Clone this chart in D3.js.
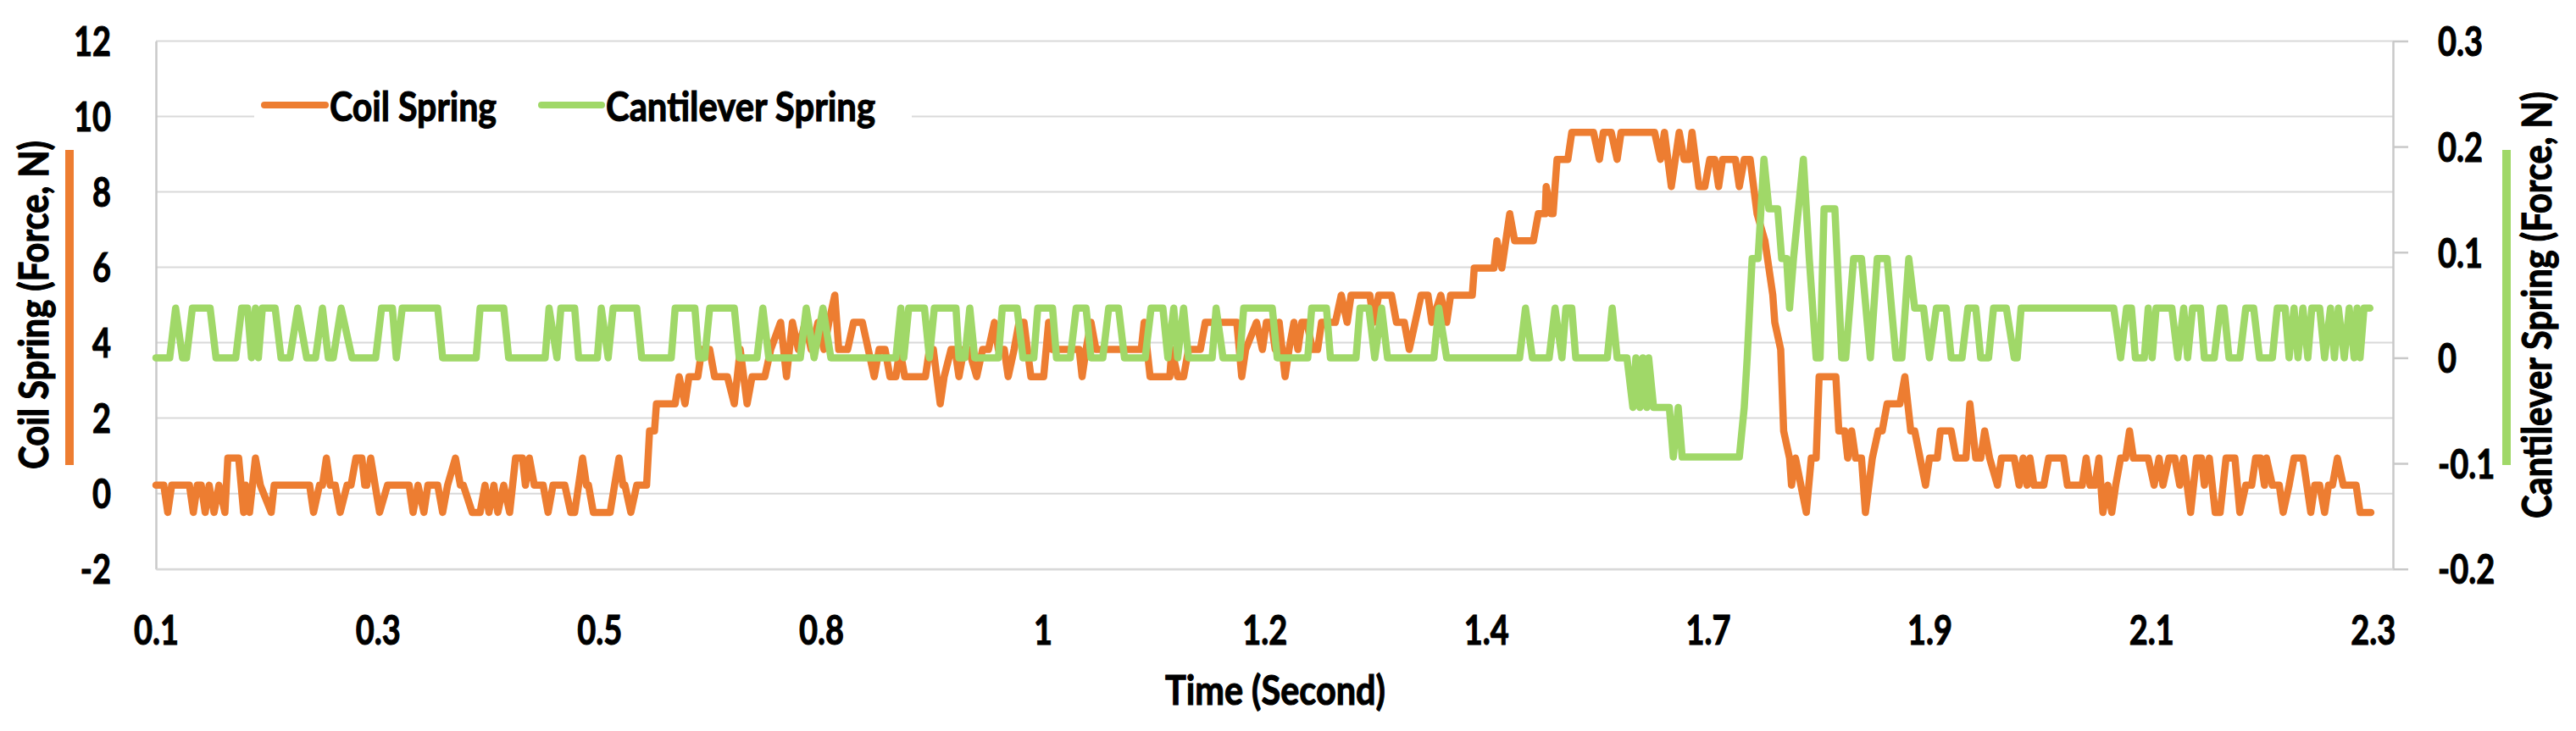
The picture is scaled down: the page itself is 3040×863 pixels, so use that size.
<!DOCTYPE html>
<html><head><meta charset="utf-8">
<script src="https://cdn.jsdelivr.net/npm/d3@7"></script>
<style>
html,body{margin:0;padding:0;background:#fff;}
svg{display:block;}
text{font-family:Lato,"Open Sans","DejaVu Sans",sans-serif;font-weight:700;fill:#000;stroke:#000;stroke-width:1.1px;}
</style>
</head><body>
<svg id="chart" width="3040" height="863"></svg>
<script>
// ---------- data ----------
const seriesNames = ["Coil Spring", "Cantilever Spring"];
const tickTimes  = [0.1, 0.325, 0.55, 0.775, 1.0, 1.225, 1.45, 1.675, 1.9, 2.125, 2.35];
const tickLabels = ["0.1","0.3","0.5","0.8","1","1.2","1.4","1.7","1.9","2.1","2.3"];
const leftTicks  = [-2, 0, 2, 4, 6, 8, 10, 12];
const rightTicks = [-0.2, -0.1, 0, 0.1, 0.2, 0.3];

// [time (s), force (N)] – Coil Spring (left axis)
const coilSpring = [
[0.100,0.22],[0.108,0.22],[0.112,-0.5],[0.116,0.22],[0.134,0.22],[0.138,-0.5],[0.142,0.22],[0.146,0.22],[0.150,-0.5],[0.154,0.22],
[0.159,-0.5],[0.164,0.22],[0.170,-0.5],[0.173,0.94],[0.184,0.94],[0.189,-0.5],[0.191,0.22],[0.195,-0.5],[0.201,0.94],[0.206,0.22],
[0.217,-0.5],[0.220,0.22],[0.256,0.22],[0.260,-0.5],[0.266,0.22],[0.269,0.22],[0.273,0.94],[0.277,0.22],[0.282,0.22],[0.287,-0.5],
[0.294,0.22],[0.298,0.22],[0.303,0.94],[0.309,0.94],[0.312,0.22],[0.314,0.22],[0.318,0.94],[0.327,-0.5],[0.335,0.22],[0.357,0.22],
[0.361,-0.5],[0.366,0.22],[0.372,-0.5],[0.376,0.22],[0.386,0.22],[0.391,-0.5],[0.396,0.22],[0.404,0.94],[0.409,0.22],[0.412,0.22],
[0.421,-0.5],[0.429,-0.5],[0.434,0.22],[0.438,-0.5],[0.443,0.22],[0.447,-0.5],[0.453,0.22],[0.459,-0.5],[0.465,0.94],[0.472,0.94],
[0.475,0.22],[0.479,0.94],[0.484,0.22],[0.493,0.22],[0.498,-0.5],[0.503,0.22],[0.515,0.22],[0.521,-0.5],[0.525,-0.5],[0.533,0.94],
[0.537,0.22],[0.539,0.22],[0.544,-0.5],[0.561,-0.5],[0.570,0.94],[0.574,0.22],[0.576,0.22],[0.582,-0.5],[0.588,0.22],[0.598,0.22],
[0.601,1.66],[0.606,1.66],[0.608,2.38],[0.627,2.38],[0.631,3.10],[0.637,2.38],[0.641,3.10],[0.650,3.10],[0.654,3.82],[0.662,3.82],
[0.667,3.10],[0.680,3.10],[0.687,2.38],[0.693,3.82],[0.700,2.38],[0.705,3.10],[0.718,3.10],[0.724,3.82],[0.734,4.54],[0.740,3.10],
[0.746,4.54],[0.752,3.82],[0.759,4.54],[0.765,3.82],[0.772,4.54],[0.778,3.82],[0.783,4.54],[0.789,5.26],[0.793,3.82],[0.802,3.82],
[0.808,4.54],[0.817,4.54],[0.823,3.82],[0.829,3.10],[0.834,3.82],[0.840,3.82],[0.845,3.10],[0.851,3.10],[0.855,3.82],[0.860,3.10],
[0.881,3.10],[0.885,3.82],[0.889,3.82],[0.896,2.38],[0.900,3.10],[0.907,3.82],[0.911,3.82],[0.915,3.10],[0.920,3.82],[0.925,3.82],
[0.933,3.10],[0.939,3.82],[0.945,3.82],[0.951,4.54],[0.955,3.82],[0.961,3.82],[0.965,3.10],[0.971,3.82],[0.976,4.54],[0.981,4.54],
[0.988,3.10],[1.001,3.10],[1.006,4.54],[1.010,3.82],[1.037,3.82],[1.040,3.10],[1.044,3.82],[1.049,4.54],[1.054,3.82],[1.100,3.82],
[1.103,4.54],[1.109,3.10],[1.129,3.10],[1.131,3.82],[1.137,3.10],[1.143,3.10],[1.148,3.82],[1.160,3.82],[1.165,4.54],[1.197,4.54],
[1.202,3.10],[1.206,3.82],[1.217,4.54],[1.223,3.82],[1.227,4.54],[1.232,4.54],[1.236,3.82],[1.240,4.54],[1.246,3.10],[1.250,3.82],
[1.255,4.54],[1.259,3.82],[1.263,4.54],[1.268,4.54],[1.274,3.82],[1.279,3.82],[1.283,4.54],[1.297,4.54],[1.303,5.26],[1.309,4.54],
[1.313,5.26],[1.332,5.26],[1.336,4.54],[1.341,5.26],[1.354,5.26],[1.359,4.54],[1.367,4.54],[1.372,3.82],[1.378,4.54],[1.384,5.26],
[1.391,5.26],[1.395,4.54],[1.404,5.26],[1.410,4.54],[1.414,5.26],[1.436,5.26],[1.438,5.98],[1.458,5.98],[1.461,6.70],[1.466,5.98],
[1.474,7.42],[1.479,6.70],[1.498,6.70],[1.503,7.42],[1.510,7.42],[1.511,8.14],[1.516,7.42],[1.518,7.42],[1.522,8.86],[1.533,8.86],
[1.537,9.58],[1.559,9.58],[1.565,8.86],[1.569,9.58],[1.577,9.58],[1.583,8.86],[1.587,9.58],[1.621,9.58],[1.627,8.86],[1.631,9.58],
[1.638,8.14],[1.646,9.58],[1.651,8.86],[1.656,8.86],[1.659,9.58],[1.666,8.14],[1.672,8.14],[1.677,8.86],[1.682,8.86],[1.686,8.14],
[1.690,8.86],[1.703,8.86],[1.707,8.14],[1.712,8.86],[1.718,8.86],[1.725,7.42],[1.733,6.70],[1.737,5.98],[1.741,5.26],[1.743,4.54],
[1.749,3.82],[1.752,1.66],[1.758,0.94],[1.760,0.22],[1.764,0.94],[1.775,-0.5],[1.780,0.94],[1.785,0.94],[1.788,3.10],[1.805,3.10],
[1.808,1.66],[1.814,1.66],[1.817,0.94],[1.821,1.66],[1.825,0.94],[1.831,0.94],[1.835,-0.5],[1.842,0.94],[1.848,1.66],[1.852,1.66],
[1.857,2.38],[1.870,2.38],[1.875,3.10],[1.881,1.66],[1.885,1.66],[1.896,0.22],[1.900,0.94],[1.908,0.94],[1.911,1.66],[1.922,1.66],
[1.927,0.94],[1.937,0.94],[1.941,2.38],[1.947,0.94],[1.952,0.94],[1.956,1.66],[1.961,0.94],[1.969,0.22],[1.973,0.94],[1.986,0.94],
[1.991,0.22],[1.995,0.94],[1.999,0.22],[2.002,0.94],[2.006,0.22],[2.016,0.22],[2.021,0.94],[2.036,0.94],[2.040,0.22],[2.055,0.22],
[2.059,0.94],[2.063,0.22],[2.068,0.22],[2.072,0.94],[2.076,-0.5],[2.081,0.22],[2.085,-0.5],[2.089,0.22],[2.094,0.94],[2.099,0.94],
[2.103,1.66],[2.107,0.94],[2.122,0.94],[2.128,0.22],[2.133,0.94],[2.137,0.22],[2.143,0.94],[2.149,0.94],[2.154,0.22],[2.158,0.94],
[2.165,-0.5],[2.171,0.94],[2.176,0.94],[2.179,0.22],[2.184,0.94],[2.190,-0.5],[2.195,-0.5],[2.201,0.94],[2.210,0.94],[2.215,-0.5],
[2.221,0.22],[2.227,0.22],[2.231,0.94],[2.236,0.94],[2.240,0.22],[2.242,0.94],[2.248,0.22],[2.255,0.22],[2.259,-0.5],[2.265,0.22],
[2.270,0.94],[2.279,0.94],[2.287,-0.5],[2.291,0.22],[2.296,0.22],[2.301,-0.5],[2.305,0.22],[2.309,0.22],[2.314,0.94],[2.320,0.22],
[2.333,0.22],[2.337,-0.5],[2.348,-0.5]
];

// [time (s), force (N)] – Cantilever Spring (right axis)
const cantileverSpring = [
[0.100,0],[0.114,0],[0.120,0.047],[0.127,0],[0.131,0],[0.137,0.047],[0.155,0.047],[0.161,0],[0.181,0],[0.187,0.047],
[0.193,0.047],[0.197,0],[0.201,0.047],[0.204,0],[0.208,0.047],[0.221,0.047],[0.227,0],[0.236,0],[0.244,0.047],[0.253,0],
[0.262,0],[0.269,0.047],[0.275,0],[0.280,0],[0.288,0.047],[0.299,0],[0.323,0],[0.329,0.047],[0.340,0.047],[0.344,0],
[0.350,0.047],[0.386,0.047],[0.391,0],[0.425,0],[0.429,0.047],[0.453,0.047],[0.458,0],[0.495,0],[0.499,0.047],[0.507,0],
[0.511,0.047],[0.525,0.047],[0.529,0],[0.548,0],[0.552,0.047],[0.559,0],[0.564,0.047],[0.588,0.047],[0.593,0],[0.623,0],
[0.627,0.047],[0.647,0.047],[0.651,0],[0.657,0],[0.662,0.047],[0.687,0.047],[0.692,0],[0.710,0],[0.716,0.047],[0.722,0],
[0.754,0],[0.760,0.047],[0.768,0],[0.777,0.047],[0.785,0],[0.851,0],[0.856,0.047],[0.859,0],[0.864,0.047],[0.880,0.047],
[0.885,0],[0.890,0.047],[0.912,0.047],[0.915,0],[0.921,0],[0.926,0.047],[0.931,0],[0.955,0],[0.959,0.047],[0.974,0.047],
[0.980,0],[0.991,0],[0.995,0.047],[1.010,0.047],[1.014,0],[1.028,0],[1.034,0.047],[1.044,0.047],[1.049,0],[1.061,0],
[1.067,0.047],[1.077,0.047],[1.083,0],[1.104,0],[1.110,0.047],[1.122,0.047],[1.127,0],[1.133,0.047],[1.137,0],[1.143,0.047],
[1.148,0],[1.172,0],[1.176,0.047],[1.183,0],[1.200,0],[1.204,0.047],[1.233,0.047],[1.238,0],[1.269,0],[1.273,0.047],
[1.288,0.047],[1.292,0],[1.318,0],[1.322,0.047],[1.331,0.047],[1.337,0],[1.344,0.047],[1.350,0],[1.397,0],[1.402,0.047],
[1.410,0],[1.484,0],[1.490,0.047],[1.497,0],[1.514,0],[1.520,0.047],[1.527,0],[1.531,0.047],[1.537,0.047],[1.541,0],
[1.573,0],[1.578,0.047],[1.583,0],[1.593,0],[1.599,-0.047],[1.602,0],[1.606,-0.047],[1.609,0],[1.613,-0.047],[1.615,0],
[1.620,-0.047],[1.636,-0.047],[1.640,-0.094],[1.645,-0.047],[1.649,-0.094],[1.707,-0.094],[1.712,-0.047],[1.715,0],[1.720,0.094],[1.726,0.094],
[1.732,0.188],[1.737,0.141],[1.746,0.141],[1.750,0.094],[1.755,0.094],[1.758,0.047],[1.762,0.094],[1.767,0.141],[1.772,0.188],[1.778,0.094],
[1.785,0],[1.789,0],[1.793,0.141],[1.804,0.141],[1.811,0],[1.815,0],[1.823,0.094],[1.831,0.094],[1.840,0],[1.847,0.094],
[1.857,0.094],[1.866,0],[1.872,0],[1.879,0.094],[1.885,0.047],[1.894,0.047],[1.900,0],[1.907,0.047],[1.917,0.047],[1.922,0],
[1.933,0],[1.939,0.047],[1.947,0.047],[1.952,0],[1.960,0],[1.965,0.047],[1.978,0.047],[1.986,0],[1.989,0],[1.993,0.047],
[2.087,0.047],[2.094,0],[2.100,0.047],[2.105,0.047],[2.109,0],[2.118,0],[2.122,0.047],[2.126,0],[2.130,0.047],[2.146,0.047],
[2.152,0],[2.158,0.047],[2.162,0],[2.167,0.047],[2.175,0.047],[2.179,0],[2.189,0],[2.195,0.047],[2.199,0.047],[2.204,0],
[2.215,0],[2.221,0.047],[2.229,0.047],[2.235,0],[2.248,0],[2.253,0.047],[2.261,0.047],[2.265,0],[2.270,0.047],[2.274,0],
[2.279,0.047],[2.284,0],[2.288,0.047],[2.296,0.047],[2.301,0],[2.307,0.047],[2.311,0],[2.315,0.047],[2.321,0],[2.326,0.047],
[2.331,0],[2.334,0.047],[2.337,0],[2.341,0.047],[2.347,0.047]
];

// ---------- layout ----------
const colors = ["#ED7D31", "#A0D868"];
const L = 184, R = 2824, T = 48.4, B = 671.7;
const SX = 0.79; // horizontal squeeze of the glyphs (condensed look)

const svg = d3.select("#chart");
svg.append("rect").attr("width", 3040).attr("height", 863).attr("fill", "#fff");

const x  = d3.scaleLinear().domain([0.1, 2.3704]).range([L, R]);
const yL = d3.scaleLinear().domain([-2, 12]).range([B, T]);
const yR = d3.scaleLinear().domain([-0.2, 0.3]).range([B, T]);

// gridlines
svg.append("g").selectAll("line").data(leftTicks).join("line")
  .attr("x1", L).attr("x2", R)
  .attr("y1", d => yL(d)).attr("y2", d => yL(d))
  .attr("stroke", "#d9d9d9").attr("stroke-width", 2);

// left axis
const gL = svg.append("g").attr("transform", `translate(${L},0)`)
  .call(d3.axisLeft(yL).tickValues(leftTicks).tickFormat(d => String(d)).tickSize(0).tickSizeOuter(0));
gL.attr("font-size", null).attr("font-family", null);
gL.select(".domain").attr("stroke", "#c9c9c9").attr("stroke-width", 2.5);
gL.selectAll(".tick line").remove();
gL.selectAll("text").attr("font-size", 48).attr("x", -53 / SX).attr("dy", "0.36em")
  .attr("transform", `scale(${SX},1)`);

// right axis
const gR = svg.append("g").attr("transform", `translate(${R},0)`)
  .call(d3.axisRight(yR).tickValues(rightTicks).tickFormat(d => String(d)).tickSize(18).tickSizeOuter(0));
gR.attr("font-size", null).attr("font-family", null);
gR.select(".domain").attr("stroke", "#c9c9c9").attr("stroke-width", 2.5);
gR.selectAll(".tick line").attr("stroke", "#c9c9c9").attr("stroke-width", 2.5);
gR.selectAll("text").attr("font-size", 48).attr("x", 53 / SX).attr("dy", "0.36em")
  .attr("transform", `scale(${SX},1)`);

// bottom axis
const gB = svg.append("g").attr("transform", `translate(0,${B})`)
  .call(d3.axisBottom(x).tickValues(tickTimes).tickFormat((d, i) => tickLabels[i]).tickSize(0).tickSizeOuter(0));
gB.attr("font-size", null).attr("font-family", null);
gB.select(".domain").attr("stroke", "#d9d9d9").attr("stroke-width", 2.5);
gB.selectAll("text").attr("font-size", 48).attr("y", 89).attr("dy", 0)
  .attr("transform", `scale(${SX},1)`);

// series
const series = [
  {data: coilSpring, y: yL, color: colors[0]},
  {data: cantileverSpring, y: yR, color: colors[1]}
];
series.forEach(s => {
  svg.append("path").datum(s.data)
    .attr("d", d3.line().x(d => x(d[0])).y(d => s.y(d[1])))
    .attr("fill", "none").attr("stroke", s.color).attr("stroke-width", 8.5)
    .attr("stroke-linejoin", "round").attr("stroke-linecap", "round");
});

// axis titles
svg.append("text").attr("transform", "translate(57,360) rotate(-90)")
  .attr("text-anchor", "middle").attr("font-size", 47)
  .attr("textLength", 388).attr("lengthAdjust", "spacingAndGlyphs")
  .text(seriesNames[0] + " (Force, N)");
svg.append("text").attr("transform", "translate(3011,360) rotate(-90)")
  .attr("text-anchor", "middle").attr("font-size", 47)
  .attr("textLength", 504).attr("lengthAdjust", "spacingAndGlyphs")
  .text(seriesNames[1] + " (Force, N)");
svg.append("rect").attr("x", 77).attr("y", 177).attr("width", 10).attr("height", 372).attr("fill", colors[0]);
svg.append("rect").attr("x", 2953).attr("y", 177).attr("width", 10).attr("height", 372).attr("fill", colors[1]);

svg.append("text").attr("x", 1505).attr("y", 832).attr("text-anchor", "middle")
  .attr("font-size", 47).attr("textLength", 260).attr("lengthAdjust", "spacingAndGlyphs")
  .text("Time (Second)");

// legend
const lg = svg.append("g");
lg.append("rect").attr("x", 300).attr("y", 100).attr("width", 776).attr("height", 66).attr("fill", "#fff");
const legendItems = [
  {name: seriesNames[0], color: colors[0], x1: 312, x2: 384, tx: 389, tl: 197},
  {name: seriesNames[1], color: colors[1], x1: 639, x2: 710, tx: 715, tl: 318}
];
legendItems.forEach(it => {
  lg.append("line").attr("x1", it.x1).attr("x2", it.x2).attr("y1", 124).attr("y2", 124)
    .attr("stroke", it.color).attr("stroke-width", 8).attr("stroke-linecap", "round");
  lg.append("text").attr("x", it.tx).attr("y", 143).attr("font-size", 47)
    .attr("textLength", it.tl).attr("lengthAdjust", "spacingAndGlyphs").text(it.name);
});
</script>
</body></html>
